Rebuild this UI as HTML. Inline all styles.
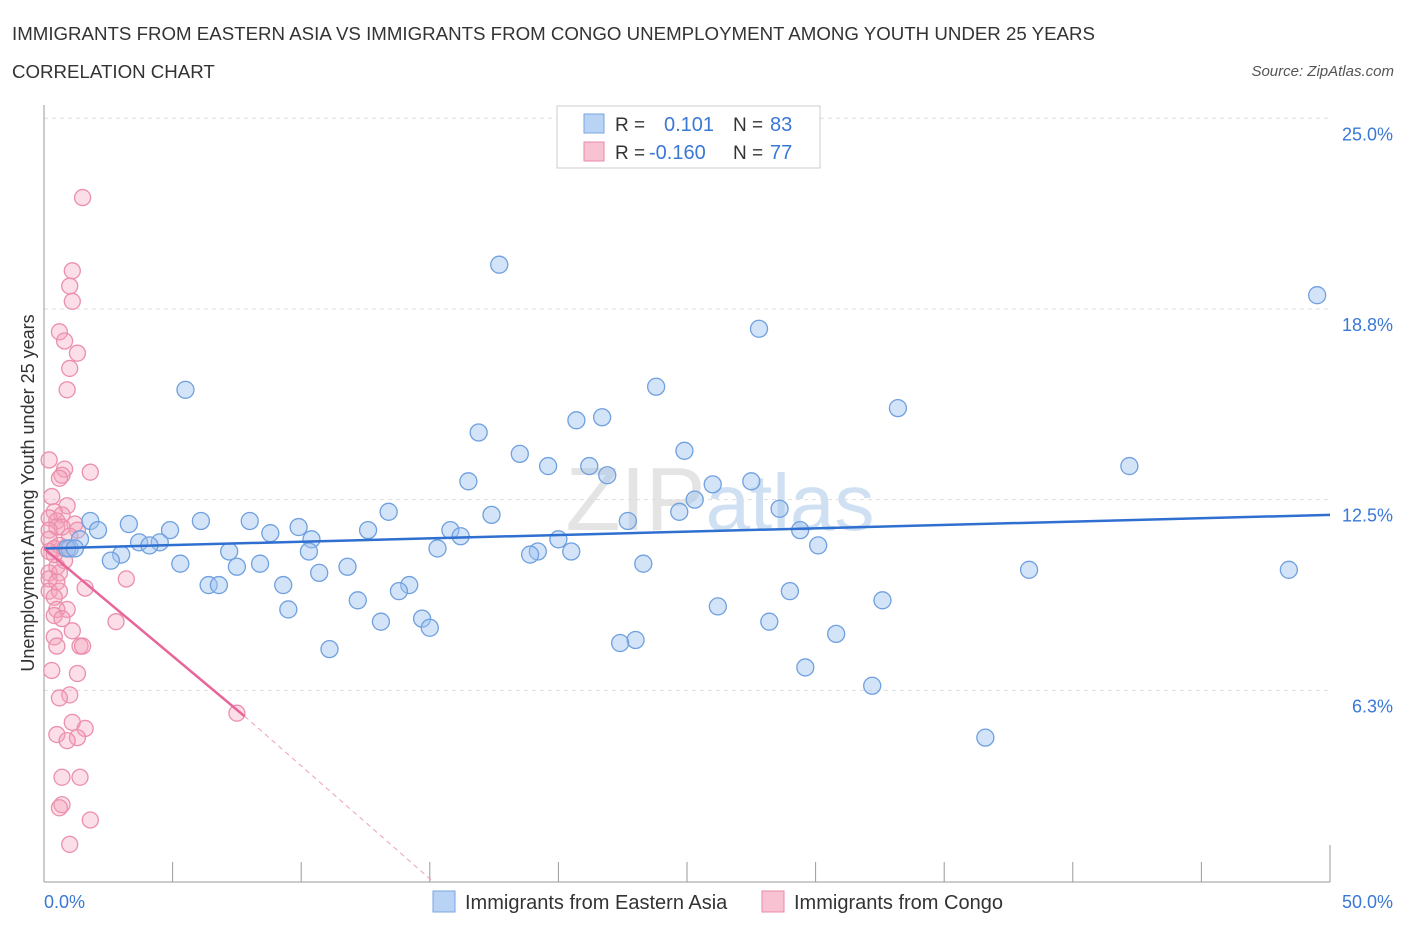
<!DOCTYPE html>
<html><head><meta charset="utf-8"><style>
body{margin:0;background:#fff;font-family:"Liberation Sans",sans-serif;}
svg text{font-family:"Liberation Sans",sans-serif;}
</style></head><body>
<svg id="chart" width="1406" height="930">
<text x="12" y="40" font-size="18.7" fill="#333">IMMIGRANTS FROM EASTERN ASIA VS IMMIGRANTS FROM CONGO UNEMPLOYMENT AMONG YOUTH UNDER 25 YEARS</text>
<text x="12" y="78" font-size="18.7" fill="#333">CORRELATION CHART</text>
<text x="1394" y="76" font-size="15" fill="#555" font-style="italic" text-anchor="end">Source: ZipAtlas.com</text>
<text x="720" y="530" font-size="90" fill="#e4e4e4" text-anchor="middle" font-family="Liberation Serif">ZIP<tspan fill="#cfe0f3" font-family="Liberation Sans" font-size="80">atlas</tspan></text>
<g id="grid"></g><g id="axes"></g><g id="marks"></g>
<g>
<rect x="557" y="106" width="263" height="62" fill="#fff" stroke="#ccc"/>
<rect x="584" y="114" width="20" height="19" fill="#b9d3f5" stroke="#7aa6e0"/>
<rect x="584" y="142" width="20" height="19" fill="#f9c2d3" stroke="#e98aa8"/>
<text x="615" y="131" font-size="19" fill="#333">R = </text><text x="664" y="131" font-size="20" fill="#3a78d6">0.101</text>
<text x="733" y="131" font-size="19" fill="#333">N = </text><text x="770" y="131" font-size="20" fill="#3a78d6">83</text>
<text x="615" y="159" font-size="19" fill="#333">R = </text><text x="649" y="159" font-size="20" fill="#3a78d6">-0.160</text>
<text x="733" y="159" font-size="19" fill="#333">N = </text><text x="770" y="159" font-size="20" fill="#3a78d6">77</text>
</g>
<g>
<rect x="433" y="891" width="22" height="21" fill="#b9d3f5" stroke="#7aa6e0"/>
<text x="465" y="909" font-size="20" fill="#333">Immigrants from Eastern Asia</text>
<rect x="762" y="891" width="22" height="21" fill="#f9c2d3" stroke="#e98aa8"/>
<text x="794" y="909" font-size="20" fill="#333">Immigrants from Congo</text>
</g>
<text transform="translate(34,493) rotate(-90)" font-size="18" fill="#333" text-anchor="middle">Unemployment Among Youth under 25 years</text>
</svg>
<script>
const yTicks=[6.25,12.5,18.75,25];
const yTickLabels=["6.3%","12.5%","18.8%","25.0%"];
const xTickLabels=["0.0%","50.0%"];
const blueX=[5.5,17.7,49.5,27.8,23.8,33.2,20.7,21.7,16.9,18.5,24.9,19.6,21.2,42.2,21.9,16.5,26,27.5,25.3,13.4,17.4,24.7,28.6,22.7,3.3,1.8,6.1,8,9.9,8.8,4.9,12.6,15.8,16.2,29.4,2.1,1.4,1,3.7,4.5,4.1,10.4,30.1,20,15.3,19.2,18.9,20.5,7.2,10.3,3,2.6,5.3,7.5,8.4,11.8,10.7,23.3,38.3,48.4,6.4,6.8,9.3,14.2,13.8,29,12.2,9.5,26.2,32.6,14.7,13.1,15,28.2,30.8,23,22.4,11.1,29.6,32.2,36.6,0.9,1.2];
const blueY=[16.1,20.2,19.2,18.1,16.2,15.5,15.1,15.2,14.7,14,14.1,13.6,13.6,13.6,13.3,13.1,13,13.1,12.5,12.1,12,12.1,12.2,11.8,11.7,11.8,11.8,11.8,11.6,11.4,11.5,11.5,11.5,11.3,11.5,11.5,11.2,10.9,11.1,11.1,11,11.2,11,11.2,10.9,10.8,10.7,10.8,10.8,10.8,10.7,10.5,10.4,10.3,10.4,10.3,10.1,10.4,10.2,10.2,9.7,9.7,9.7,9.7,9.5,9.5,9.2,8.9,9,9.2,8.6,8.5,8.3,8.5,8.1,7.9,7.8,7.6,7,6.4,4.7,10.9,10.9];
const pinkX=[1.5,1.1,1,1.1,0.6,0.8,1.3,1,0.9,0.2,0.8,1.8,0.7,0.6,0.3,0.9,0.4,0.7,0.2,0.5,1.2,0.5,0.7,0.2,1.3,1,0.2,0.6,0.4,0.2,0.8,0.5,0.2,0.6,3.2,0.2,0.5,1.6,0.2,0.6,0.4,0.9,0.5,0.4,0.7,2.8,1.1,0.4,1.4,1.5,0.5,0.3,1.3,1,0.6,7.5,1.1,1.6,0.5,1.3,0.9,0.7,1.4,0.7,0.6,1.8,1,0.4,0.8];
const pinkY=[22.4,20,19.5,19,18,17.7,17.3,16.8,16.1,13.8,13.5,13.4,13.3,13.2,12.6,12.3,12.1,12,11.9,11.8,11.7,11.6,11.6,11.5,11.5,11.3,11.2,11,10.9,10.8,10.5,10.3,10.1,10.1,9.9,9.9,9.8,9.6,9.5,9.5,9.3,8.9,8.9,8.7,8.6,8.5,8.2,8,7.7,7.7,7.7,6.9,6.8,6.1,6,5.5,5.2,5,4.8,4.7,4.6,3.4,3.4,2.5,2.4,2,1.2,10.7,10.9];
const blueTrend=[[0,10.9],[50,12.0]];
const pinkTrend=[[0,10.9],[7.8,5.4],[15.1,0]];
const X=v=>44+v*25.72, Y=v=>881-v*30.51;
const NS="http://www.w3.org/2000/svg";
function mk(p,t,a){const e=document.createElementNS(NS,t);for(const k in a)e.setAttribute(k,a[k]);document.getElementById(p).appendChild(e);return e;}
yTicks.forEach((t,i)=>{
 const g=mk('grid','line',{x1:44,x2:1330,y1:Y(t),y2:Y(t),stroke:'#ddd','stroke-dasharray':'4,4'});
 
 
 const l=mk('axes','text',{x:1393,y:Y(t)+22,'font-size':18,fill:'#3a78d6','text-anchor':'end'});
 l.textContent=yTickLabels[i];
 
 
});
const ax=mk('axes','line',{x1:44,x2:44,y1:105,y2:882,stroke:'#999'});


const bx=mk('axes','line',{x1:44,x2:1330,y1:882,y2:882,stroke:'#999'});


for(let i=0;i<=10;i++){const t=mk('axes','line',{x1:X(i*5),x2:X(i*5),y1:882,y2:i==10?845:862,stroke:'#999'});
 
 }
[[0,'start',44],[1,'end',1393]].forEach(([i,a,x])=>{const l=mk('axes','text',{x:x,y:908,'font-size':18,fill:'#3a78d6','text-anchor':a});l.textContent=xTickLabels[i];
 
 });
pinkX.forEach((v,i)=>{const c=mk('marks','circle',{cx:X(v),cy:Y(pinkY[i]),r:8,fill:'rgba(244,160,186,0.35)',stroke:'#ec8fac','stroke-width':1.3});
 
 });
blueX.forEach((v,i)=>{const c=mk('marks','circle',{cx:X(v),cy:Y(blueY[i]),r:8.5,fill:'rgba(160,196,240,0.45)',stroke:'#6fa0df','stroke-width':1.3});
 
 });
const bt=mk('marks','line',{x1:X(blueTrend[0][0]),y1:Y(blueTrend[0][1]),x2:X(blueTrend[1][0]),y2:Y(blueTrend[1][1]),stroke:'#2f6fd0','stroke-width':2.5});


const pt=mk('marks','line',{x1:X(pinkTrend[0][0]),y1:Y(pinkTrend[0][1]),x2:X(pinkTrend[1][0]),y2:Y(pinkTrend[1][1]),stroke:'#e8659a','stroke-width':2.5});


const pd=mk('marks','line',{x1:X(pinkTrend[1][0]),y1:Y(pinkTrend[1][1]),x2:X(pinkTrend[2][0]),y2:Y(pinkTrend[2][1]),stroke:'#eea0bb','stroke-width':1,'stroke-dasharray':'5,4'});


</script>
</body></html>
